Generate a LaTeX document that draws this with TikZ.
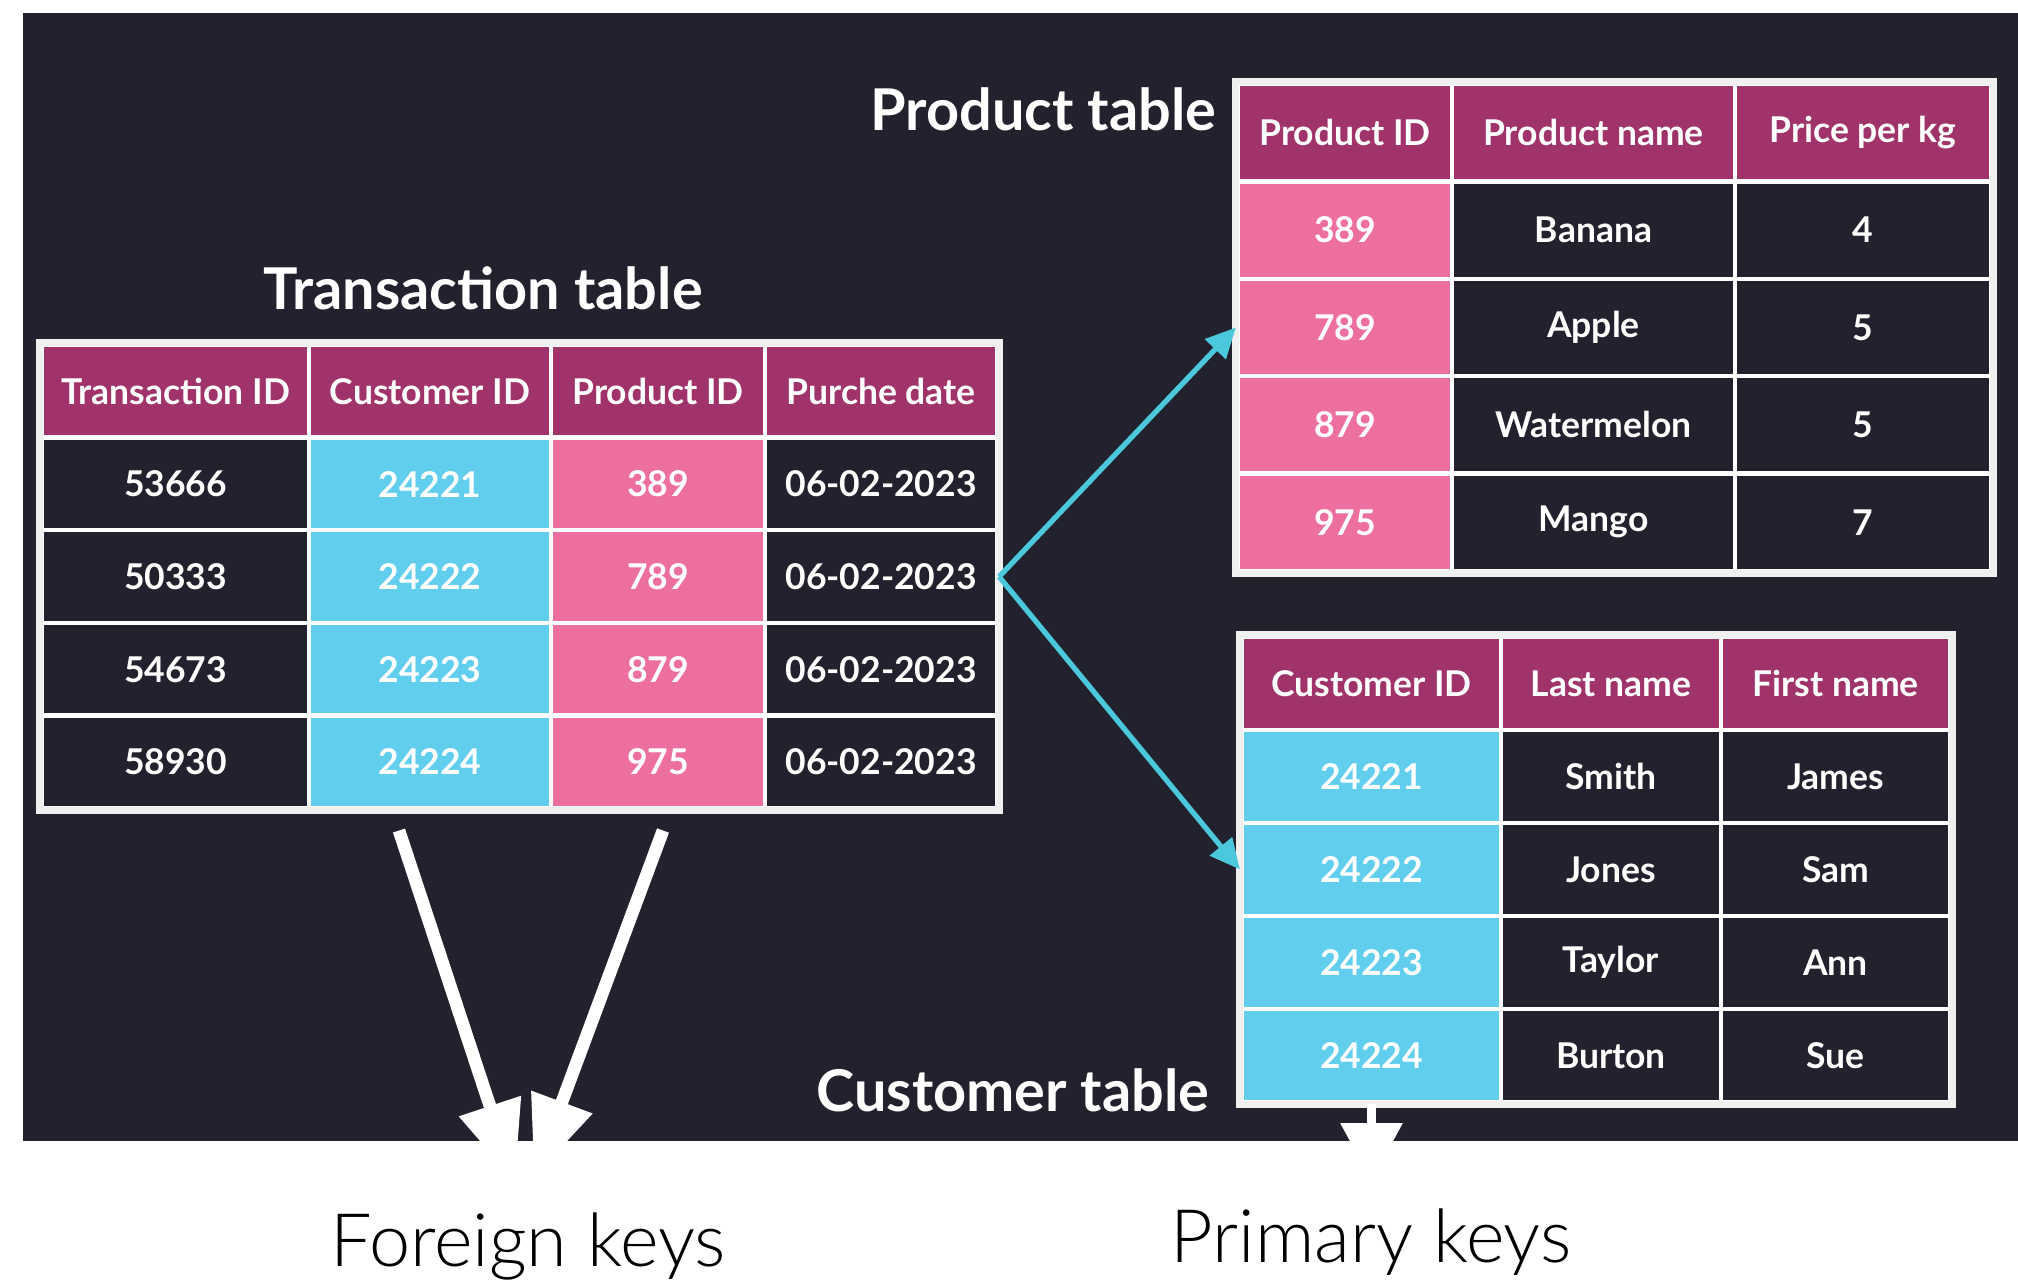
\documentclass[tikz,border=0pt]{standalone}
\usepackage{fontspec}
\setmainfont{Lato}
\newfontfamily\keyfont{Lato Light}
\usetikzlibrary{arrows.meta,positioning}
\definecolor{darkbg}{HTML}{21222D}
\definecolor{headmag}{HTML}{A0336A}
\definecolor{keypink}{HTML}{EC6FA0}
\definecolor{keycyan}{HTML}{62CEEE}
\definecolor{linkcyan}{HTML}{4BC8DB}

\begin{document}
\begin{tikzpicture}[
  cell/.style={rectangle, draw=white, line width=1.2pt, text=white, inner sep=0pt,
    minimum height=0.93cm, font=\bfseries\fontsize{10.1}{12}\selectfont},
  headcell/.style={cell, fill=headmag},
  datacell/.style={cell, fill=darkbg},
  pinkcell/.style={cell, fill=keypink},
  cyancell/.style={cell, fill=keycyan},
  frame/.style={draw=white!88!gray, line width=2pt},
  tabtitle/.style={text=white, inner sep=0pt, font=\bfseries\fontsize{16.4}{20}\selectfont},
  keylabel/.style={text=black, font=\keyfont\fontsize{21}{25}\selectfont},
  link/.style={-{Triangle[length=0.3cm, width=0.28cm]}, linkcyan, line width=1.5pt},
  keyarr/.style={-{Triangle[length=0.8cm, width=0.62cm]}, white, line width=3.6pt},
]
\useasboundingbox (0,0) rectangle (20.18,-12.85);
\fill[darkbg] (0.23,-0.13) rectangle (20.18,-11.41);

% transaction table
\node[tabtitle] (trans-title) at (4.83,-2.88) {Transaction table};
\node[headcell, minimum width=2.67cm] (trans-0-1) at (1.755,-3.915) {Transaction ID};
\node[headcell, minimum width=2.42cm] (trans-0-2) at (4.30,-3.915) {Customer ID};
\node[headcell, minimum width=2.14cm] (trans-0-3) at (6.58,-3.915) {Product ID};
\node[headcell, minimum width=2.32cm] (trans-0-4) at (8.81,-3.915) {Purche date};
\foreach \tid/\cid/\pid [count=\r] in {53666/24221/389, 50333/24222/789, 54673/24223/879, 58930/24224/975} {
  \node[datacell, minimum width=2.67cm] (trans-\r-1) at (1.755,{-3.915-0.926*\r}) {\tid};
  \node[cyancell, minimum width=2.42cm] (trans-\r-2) at (4.30,{-3.915-0.926*\r}) {\cid};
  \node[pinkcell, minimum width=2.14cm] (trans-\r-3) at (6.58,{-3.915-0.926*\r}) {\pid};
  \node[datacell, minimum width=2.32cm] (trans-\r-4) at (8.81,{-3.915-0.926*\r}) {06-02-2023};
}
\draw[frame] (trans-0-1.north west) rectangle (trans-4-4.south east);

% product table
\node[tabtitle, anchor=east] (prod-title) at (12.17,-1.09) {Product table};
\node[headcell, minimum width=2.14cm, minimum height=0.974cm] (prod-0-1) at (13.45,-1.327) {Product ID};
\node[headcell, minimum width=2.83cm, minimum height=0.974cm] (prod-0-2) at (15.935,-1.327) {Product name};
\node[headcell, minimum width=2.56cm, minimum height=0.974cm] (prod-0-3) at (18.63,-1.327) {Price per kg};
\foreach \pid/\pname/\price [count=\r] in {389/Banana/4, 789/Apple/5, 879/Watermelon/5, 975/Mango/7} {
  \node[pinkcell, minimum width=2.14cm, minimum height=0.974cm] (prod-\r-1) at (13.45,{-1.327-0.974*\r}) {\pid};
  \node[datacell, minimum width=2.83cm, minimum height=0.974cm] (prod-\r-2) at (15.935,{-1.327-0.974*\r}) {\pname};
  \node[datacell, minimum width=2.56cm, minimum height=0.974cm] (prod-\r-3) at (18.63,{-1.327-0.974*\r}) {\price};
}
\draw[frame] (prod-0-1.north west) rectangle (prod-4-3.south east);

% customer table
\node[tabtitle, anchor=east] (cust-title) at (12.10,-10.90) {Customer table};
\node[headcell, minimum width=2.59cm] (cust-0-1) at (13.715,-6.835) {Customer ID};
\node[headcell, minimum width=2.20cm] (cust-0-2) at (16.11,-6.835) {Last name};
\node[headcell, minimum width=2.29cm] (cust-0-3) at (18.355,-6.835) {First name};
\foreach \cid/\last/\first [count=\r] in {24221/Smith/James, 24222/Jones/Sam, 24223/Taylor/Ann, 24224/Burton/Sue} {
  \node[cyancell, minimum width=2.59cm] (cust-\r-1) at (13.715,{-6.835-0.93*\r}) {\cid};
  \node[datacell, minimum width=2.20cm] (cust-\r-2) at (16.11,{-6.835-0.93*\r}) {\last};
  \node[datacell, minimum width=2.29cm] (cust-\r-3) at (18.355,{-6.835-0.93*\r}) {\first};
}
\draw[frame] (cust-0-1.north west) rectangle (cust-4-3.south east);

\draw[link] (trans-2-4.east) -- (prod-2-1.west);
\draw[link] (trans-2-4.east) -- (cust-2-1.west);

\node[keylabel] (fk-label) at (5.28,-12.46) {Foreign keys};
\node[keylabel] (pk-label) at (13.71,-12.42) {Primary keys};
\coordinate (fk-start-1) at ([xshift=-0.31cm, yshift=-0.2cm] trans-4-2.south);
\coordinate (fk-start-2) at ([xshift=0.05cm, yshift=-0.2cm] trans-4-3.south);
\coordinate (fk-tip-1) at (5.15,-11.82);
\coordinate (fk-tip-2) at (5.34,-11.77);
\coordinate (pk-tip) at (13.715,-11.81);
\draw[keyarr] (fk-start-1) -- (fk-tip-1);
\draw[keyarr] (fk-start-2) -- (fk-tip-2);
\draw[keyarr, line width=2.8pt, -{Triangle[length=0.58cm, width=0.6cm]}] (cust-4-1.south) -- (pk-tip);
\end{tikzpicture}
\end{document}
